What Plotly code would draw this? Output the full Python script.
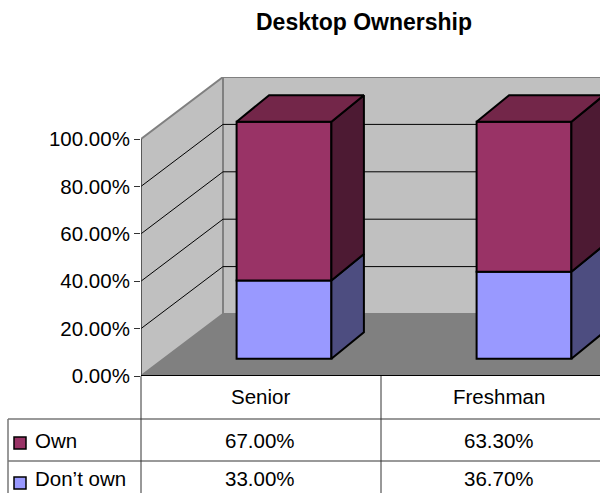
import plotly.graph_objects as go

categories = ["Senior", "Freshman"]
own = [67.00, 63.30]
dont_own = [33.00, 36.70]
y_ticks = [0, 20, 40, 60, 80, 100]
FONT = "Liberation Sans"
FS = 20.5

W, H = 615, 493
L, R, T, B = 141, 600, 77, 376
PX_X = 240.0   # pixels per category
PX_Y = 2.37    # pixels per percent
x0 = -0.5
x1 = x0 + (R - L) / PX_X
y1 = (B - T) / PX_Y

def ux(px): return px / PX_X
def uy(px): return px / PX_Y
def paper_x(px): return (px - L) / (R - L)
def paper_y(py): return (B - py) / (B - T)

# oblique projection of depth, in axis units
WALL_DX, WALL_DY = ux(82), uy(62)
BAR_X, BAR_Y = ux(23), uy(17.3)       # front of bars relative to floor front
SIDE_DX, SIDE_DY = ux(32.5), uy(26.5) # depth of bars
BAR_W = 0.395
LINE = dict(color="black", width=2)

fig = go.Figure()
xs = [i + BAR_X for i in range(len(categories))]

series = [("Don\u2019t own", dont_own, "#9999FF", "#4D4D80", "#4D4D80"),
          ("Own", own, "#993366", "#4D1A33", "#732649")]
base = [BAR_Y] * len(categories)
for name, vals, front, side, top in series:
    fig.add_trace(go.Bar(x=xs, y=vals, base=base, width=BAR_W, name=name,
                         marker=dict(color=front, line=LINE), showlegend=False))
    for xc, v, b in zip(xs, vals, base):
        xr = xc + BAR_W / 2
        fig.add_trace(go.Scatter(
            x=[xr, xr + SIDE_DX, xr + SIDE_DX, xr, xr],
            y=[b, b + SIDE_DY, b + v + SIDE_DY, b + v, b],
            mode="lines", fill="toself", fillcolor=side, line=LINE,
            showlegend=False, hoverinfo="skip"))
    base = [b + v for b, v in zip(base, vals)]
for xc, b in zip(xs, base):
    xr = xc + BAR_W / 2
    xl = xc - BAR_W / 2
    fig.add_trace(go.Scatter(
        x=[xl, xl + SIDE_DX, xr + SIDE_DX, xr, xl],
        y=[b, b + SIDE_DY, b + SIDE_DY, b, b],
        mode="lines", fill="toself", fillcolor="#732649", line=LINE,
        showlegend=False, hoverinfo="skip"))

shapes = []
WALL = "#C0C0C0"
EDGE = "#808080"
wx = x0 + WALL_DX
# back wall
shapes.append(dict(type="rect", x0=wx, x1=x1 + 1, y0=WALL_DY, y1=100 + WALL_DY,
                   xref="x", yref="y", layer="below", fillcolor=WALL, line=dict(color=EDGE, width=2)))
# side wall
shapes.append(dict(type="path", layer="below", xref="x", yref="y", fillcolor=WALL,
                   line=dict(color=EDGE, width=2),
                   path=f"M {x0} 0 L {wx} {WALL_DY} L {wx} {100+WALL_DY} L {x0} 100 Z"))
# floor
shapes.append(dict(type="path", layer="below", xref="x", yref="y", fillcolor=EDGE,
                   line=dict(width=0),
                   path=f"M {x0} 0 L {wx} {WALL_DY} L {x1+1} {WALL_DY} L {x1+1} 0 Z"))
# gridlines
for t in y_ticks[1:-1]:
    shapes.append(dict(type="line", layer="below", xref="x", yref="y", x0=x0, y0=t,
                       x1=wx, y1=t + WALL_DY, line=dict(color="black", width=1)))
    shapes.append(dict(type="line", layer="below", xref="x", yref="y", x0=wx, y0=t + WALL_DY,
                       x1=x1 + 1, y1=t + WALL_DY, line=dict(color="black", width=1)))
# axis line and floor front edge
shapes.append(dict(type="line", xref="x", yref="y", x0=x0, x1=x0, y0=0, y1=100,
                   line=dict(color="#333333", width=1)))
shapes.append(dict(type="line", xref="x", yref="y", x0=x0, x1=x1, y0=0, y1=0,
                   line=dict(color="black", width=2)))

# data table rules
TBL = "#777777"
for py in (419, 461):
    shapes.append(dict(type="line", xref="paper", yref="paper", x0=paper_x(8), x1=paper_x(R),
                       y0=paper_y(py), y1=paper_y(py), line=dict(color=TBL, width=1.5)))
shapes.append(dict(type="line", xref="paper", yref="paper", x0=paper_x(8), x1=paper_x(8),
                   y0=paper_y(419), y1=paper_y(H), line=dict(color=TBL, width=1.5)))
for px in (141, 381):
    shapes.append(dict(type="line", xref="paper", yref="paper", x0=paper_x(px), x1=paper_x(px),
                       y0=paper_y(376), y1=paper_y(H), line=dict(color="#333333", width=1)))

ann = []
def txt(s, px, py, anchor="center", size=FS, bold=False):
    ann.append(dict(text=f"<b>{s}</b>" if bold else s, xref="paper", yref="paper",
                    x=paper_x(px), y=paper_y(py), xanchor=anchor, yanchor="middle",
                    showarrow=False, font=dict(family=FONT, size=size, color="black")))

COL_X = [260, 499]
HEAD_Y, OWN_Y, DONT_Y = 396, 440, 478
for i, c in enumerate(categories):
    txt(c, COL_X[i], HEAD_Y)
    txt(f"{own[i]:.2f}%", COL_X[i], OWN_Y)
    txt(f"{dont_own[i]:.2f}%", COL_X[i], DONT_Y)
txt("Own", 33, OWN_Y, "left")
txt("Don\u2019t own", 33, DONT_Y, "left")
txt("Desktop Ownership", 364, 22, size=23, bold=True)

for (name, vals, front, side, top), py in zip(series, (483, 443)):
    shapes.append(dict(type="rect", xref="paper", yref="paper", x0=paper_x(14), x1=paper_x(26),
                       y0=paper_y(py - 6), y1=paper_y(py + 6), fillcolor=front,
                       line=dict(color="black", width=1.5)))

fig.update_layout(
    width=W, height=H, autosize=False,
    margin=dict(l=L, r=W - R, t=T, b=H - B, pad=0),
    paper_bgcolor="white", plot_bgcolor="white",
    barmode="overlay", showlegend=False,
    shapes=shapes, annotations=ann,
    xaxis=dict(range=[x0, x1], showgrid=False, zeroline=False, showticklabels=False,
               ticks="", showline=False, fixedrange=True),
    yaxis=dict(range=[0, y1], tickvals=y_ticks, ticktext=[f"{t:.2f}%" for t in y_ticks],
               showgrid=False, zeroline=False, showline=False, ticks="outside", ticklen=6,
               tickcolor="#333333", tickwidth=1,
               tickfont=dict(family=FONT, size=FS, color="black"), fixedrange=True),
)
fig.write_html("out.html", config={"displayModeBar": False},
               post_script="document.body.style.margin='0';document.documentElement.style.overflow='hidden';")
